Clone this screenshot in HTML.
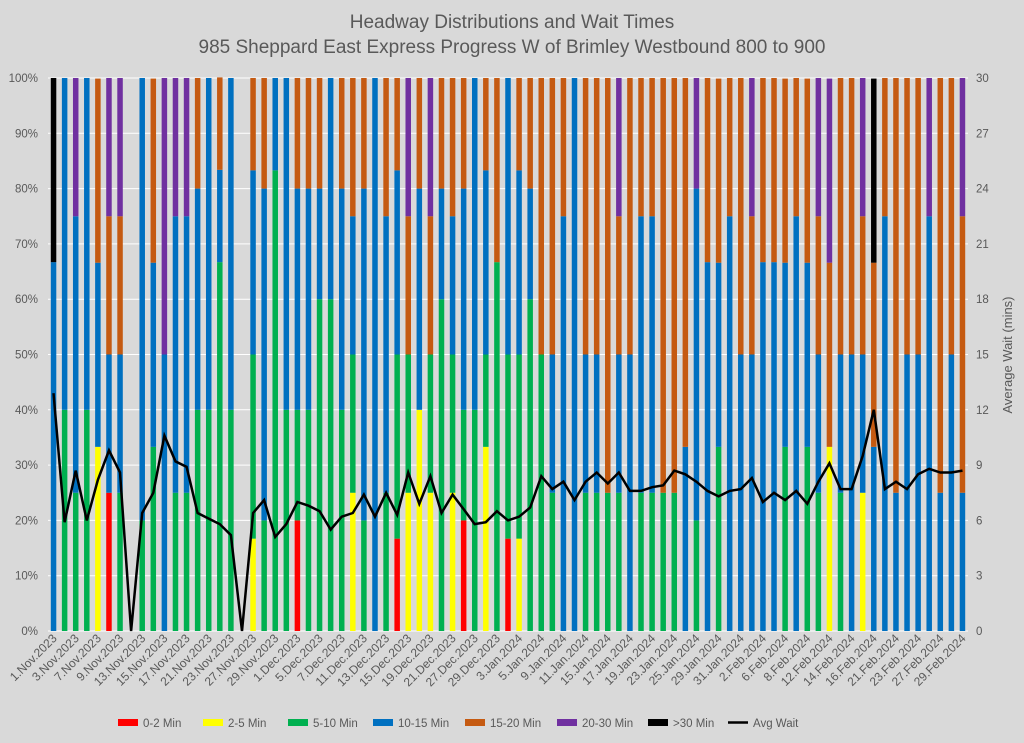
<!DOCTYPE html>
<html><head><meta charset="utf-8"><style>
body{margin:0;background:#d9d9d9;font-family:"Liberation Sans",sans-serif;}
svg{display:block}
</style></head><body>
<svg id="chart" width="1024" height="743" xmlns="http://www.w3.org/2000/svg">
<rect width="1024" height="743" fill="#d9d9d9"/>
<text x="512" y="28" text-anchor="middle" font-size="19" fill="#595959">Headway Distributions and Wait Times</text>
<text x="512" y="53" text-anchor="middle" font-size="19" fill="#595959">985 Sheppard East Express  Progress W of Brimley Westbound 800 to 900</text>
<text transform="translate(1012,355) rotate(-90)" text-anchor="middle" font-size="13" fill="#595959">Average Wait (mins)</text>
<g id="grid"></g><g id="bars"></g><g id="line"></g><g id="axes"></g><g id="legend"></g>
</svg>
<script>
const dates=["1.Nov.2023","2.Nov.2023","3.Nov.2023","6.Nov.2023","7.Nov.2023","8.Nov.2023","9.Nov.2023","10.Nov.2023","13.Nov.2023","14.Nov.2023","15.Nov.2023","16.Nov.2023","17.Nov.2023","20.Nov.2023","21.Nov.2023","22.Nov.2023","23.Nov.2023","24.Nov.2023","27.Nov.2023","28.Nov.2023","29.Nov.2023","30.Nov.2023",
"1.Dec.2023","4.Dec.2023","5.Dec.2023","6.Dec.2023","7.Dec.2023","8.Dec.2023","11.Dec.2023","12.Dec.2023","13.Dec.2023","14.Dec.2023","15.Dec.2023","18.Dec.2023","19.Dec.2023","20.Dec.2023","21.Dec.2023","22.Dec.2023","27.Dec.2023","28.Dec.2023","29.Dec.2023",
"2.Jan.2024","3.Jan.2024","4.Jan.2024","5.Jan.2024","8.Jan.2024","9.Jan.2024","10.Jan.2024","11.Jan.2024","12.Jan.2024","15.Jan.2024","16.Jan.2024","17.Jan.2024","18.Jan.2024","19.Jan.2024","22.Jan.2024","23.Jan.2024","24.Jan.2024","25.Jan.2024","26.Jan.2024","29.Jan.2024","30.Jan.2024","31.Jan.2024",
"1.Feb.2024","2.Feb.2024","5.Feb.2024","6.Feb.2024","7.Feb.2024","8.Feb.2024","9.Feb.2024","12.Feb.2024","13.Feb.2024","14.Feb.2024","15.Feb.2024","16.Feb.2024","20.Feb.2024","21.Feb.2024","22.Feb.2024","23.Feb.2024","26.Feb.2024","27.Feb.2024","28.Feb.2024","29.Feb.2024"];
const seriesNames=["0-2 Min","2-5 Min","5-10 Min","10-15 Min","15-20 Min","20-30 Min",">30 Min"];
const seriesColors=["#ff0000","#ffff00","#00b050","#0070c0","#c55a11","#7030a0","#000000"];
const shares=[
[0,0,0,66.7,0,0,33.3],[0,0,40,60,0,0,0],[0,0,25,50,0,25,0],[0,0,40,60,0,0,0],[0,33.3,0,33.3,33.3,0,0],[25,0,0,25,25,25,0],[0,0,25,25,25,25,0],[0,0,0,0,0,0,0],[0,0,20,80,0,0,0],[0,0,33.3,33.3,33.3,0,0],
[0,0,0,50,0,50,0],[0,0,25,50,0,25,0],[0,0,25,50,0,25,0],[0,0,40,40,20,0,0],[0,0,40,60,0,0,0],[0,0,66.7,16.7,16.7,0,0],[0,0,40,60,0,0,0],[0,0,0,0,0,0,0],[0,16.7,33.3,33.3,16.7,0,0],[0,0,20,60,20,0,0],
[0,0,83.3,16.7,0,0,0],[0,0,40,60,0,0,0],[20,0,20,40,20,0,0],[0,0,40,40,20,0,0],[0,0,60,20,20,0,0],[0,0,60,40,0,0,0],[0,0,40,40,20,0,0],[0,25,25,25,25,0,0],[0,0,20,60,20,0,0],[0,0,0,100,0,0,0],
[0,0,25,50,25,0,0],[16.7,0,33.3,33.3,16.7,0,0],[0,25,25,0,25,25,0],[0,40,0,40,20,0,0],[0,25,25,0,25,25,0],[0,0,60,20,20,0,0],[0,25,25,25,25,0,0],[20,0,20,40,20,0,0],[0,0,40,60,0,0,0],[0,33.3,16.7,33.3,16.7,0,0],
[0,0,66.7,0,33.3,0,0],[16.7,0,33.3,50,0,0,0],[0,16.7,33.3,33.3,16.7,0,0],[0,0,60,20,20,0,0],[0,0,50,0,50,0,0],[0,0,25,25,50,0,0],[0,0,0,75,25,0,0],[0,0,0,100,0,0,0],[0,0,25,25,50,0,0],[0,0,25,25,50,0,0],
[0,0,25,0,75,0,0],[0,0,25,25,25,25,0],[0,0,0,50,50,0,0],[0,0,25,50,25,0,0],[0,0,25,50,25,0,0],[0,0,25,0,75,0,0],[0,0,25,0,75,0,0],[0,0,0,33.3,66.7,0,0],[0,0,20,60,0,20,0],[0,0,0,66.7,33.3,0,0],
[0,0,33.3,33.3,33.3,0,0],[0,0,0,75,25,0,0],[0,0,0,50,50,0,0],[0,0,0,50,25,25,0],[0,0,0,66.7,33.3,0,0],[0,0,0,66.7,33.3,0,0],[0,0,33.3,33.3,33.3,0,0],[0,0,0,75,25,0,0],[0,0,33.3,33.3,33.3,0,0],[0,0,25,25,25,25,0],
[0,33.3,0,0,33.3,33.3,0],[0,0,25,25,50,0,0],[0,0,0,50,50,0,0],[0,25,0,25,25,25,0],[0,0,0,33.3,33.3,0,33.3],[0,0,0,75,25,0,0],[0,0,0,25,75,0,0],[0,0,0,50,50,0,0],[0,0,0,50,50,0,0],[0,0,0,75,0,25,0],
[0,0,0,25,75,0,0],[0,0,0,50,50,0,0],[0,0,0,25,50,25,0]];
const avgWait=[12.9,5.9,8.7,6.0,8.2,9.8,8.6,0,6.4,7.5,10.6,9.2,8.9,6.4,6.1,5.8,5.2,0,6.4,7.1,5.1,5.8,7.0,6.8,6.5,5.5,6.2,6.4,7.4,6.2,7.5,6.3,8.6,6.9,8.4,6.4,7.4,6.6,5.8,5.9,6.5,6.0,6.2,6.7,8.4,7.7,8.1,7.1,8.1,8.6,8.0,8.6,7.6,7.6,7.8,7.9,8.7,8.5,8.1,7.6,7.3,7.6,7.7,8.3,7.0,7.5,7.1,7.6,6.9,8.1,9.1,7.7,7.7,9.5,12.0,7.7,8.1,7.7,8.5,8.8,8.6,8.6,8.7];
const leftTicks=["0%","10%","20%","30%","40%","50%","60%","70%","80%","90%","100%"];
const rightTicks=[0,3,6,9,12,15,18,21,24,27,30];

const NS="http://www.w3.org/2000/svg";
const L=48,R=968,T=78,B=631;
const step=(R-L)/dates.length;
const xC=i=>L+(i+0.5)*step;
const yP=p=>B-(p/100)*(B-T);
const yW=w=>B-(w/30)*(B-T);
function mk(tag,attrs,parent,txt){const e=document.createElementNS(NS,tag);for(const k in attrs)e.setAttribute(k,attrs[k]);if(txt!==undefined)e.textContent=txt;parent.appendChild(e);return e;}
const grid=document.getElementById('grid'),bars=document.getElementById('bars'),lineG=document.getElementById('line'),axes=document.getElementById('axes'),leg=document.getElementById('legend');
leftTicks.forEach((t,k)=>{const y=yP(k*10);
 const g=mk('line',{x1:L,x2:R,y1:y,y2:y,stroke:'#ffffff','stroke-width':1},grid);
 
 const lt=mk('text',{x:38,y:y+4,'text-anchor':'end','font-size':11.5,fill:'#595959'},axes,t);
 });
rightTicks.forEach(v=>{const y=yW(v);
 const rt=mk('text',{x:976,y:y+4,'text-anchor':'start','font-size':11.5,fill:'#595959'},axes,String(v));
 });
const bw=5.5;
shares.forEach((row,i)=>{let cum=0;row.forEach((v,s)=>{if(v<=0)return;
 const y0=yP(cum),y1=yP(cum+v);cum+=v;
 const r=mk('rect',{x:xC(i)-bw/2,y:y1,width:bw,height:y0-y1,fill:seriesColors[s]},bars);
 });});
const pts=avgWait.map((w,i)=>xC(i).toFixed(1)+','+yW(w).toFixed(1)).join(' ');
const pl=mk('polyline',{points:pts,fill:'none',stroke:'#000','stroke-width':2.5,'stroke-linejoin':'miter'},lineG);

dates.forEach((d,i)=>{if(i%2)return;const x=xC(i)+4,y=B+8;
 const t=mk('text',{x:x,y:y,'text-anchor':'end','font-size':12,fill:'#595959',transform:`rotate(-45 ${x} ${y})`},axes,d);
 });
const legX=[118,203,288,373,465,557,648,728];
seriesNames.forEach((n,s)=>{const x=legX[s];
 const g=mk('g',{},leg);
 
 mk('rect',{x:x,y:719,width:20,height:7,fill:seriesColors[s]},g);
 mk('text',{x:x+25,y:727,'font-size':11.5,fill:'#595959'},g,n);});
const g2=mk('g',{},leg);

mk('line',{x1:legX[7],x2:legX[7]+20,y1:722.5,y2:722.5,stroke:'#000','stroke-width':2.5},g2);
mk('text',{x:legX[7]+25,y:727,'font-size':11.5,fill:'#595959'},g2,'Avg Wait');
</script>
</body></html>
